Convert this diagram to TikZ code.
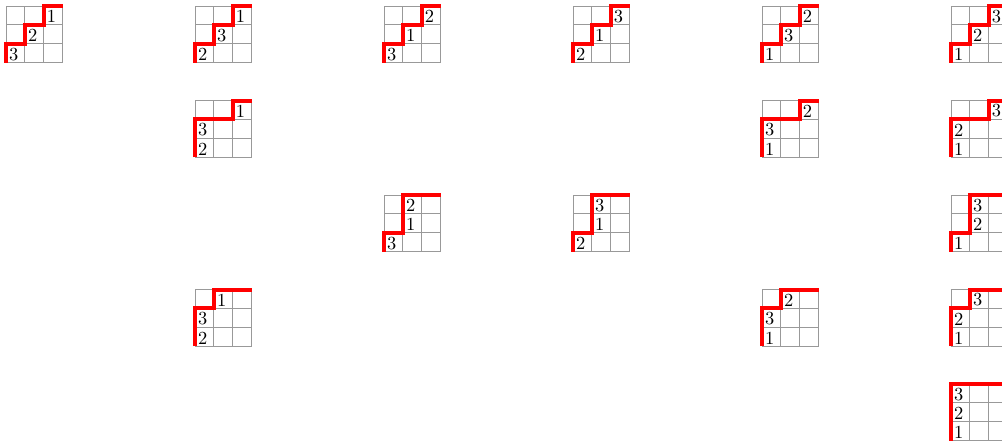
\documentclass[tikz,border=0pt]{standalone}
\tikzset{
  gridline/.style={gray!80, line width=0.5pt},
  rimline/.style={red, line width=2.2pt},
  entry/.style={anchor=south west, inner xsep=1.5pt, inner ysep=1pt}
}
\begin{document}
\begin{tikzpicture}[x=0.36cm, y=0.36cm]
\useasboundingbox (-0.32,0.32) rectangle (52.7,-23.17);
% col/row of tableau, column of entry in middle and top row, entries bottom/middle/top
\foreach \cx/\cy/\pb/\pc/\a/\b/\c in {
  0/0/1/2/3/2/1, 1/0/1/2/2/3/1, 2/0/1/2/3/1/2, 3/0/1/2/2/1/3, 4/0/1/2/1/3/2, 5/0/1/2/1/2/3,
  1/1/0/2/2/3/1, 4/1/0/2/1/3/2, 5/1/0/2/1/2/3,
  2/2/1/1/3/1/2, 3/2/1/1/2/1/3, 5/2/1/1/1/2/3,
  1/3/0/1/2/3/1, 4/3/0/1/1/3/2, 5/3/0/1/1/2/3,
  5/4/0/0/1/2/3}{
  \begin{scope}[shift={(10*\cx,-5*\cy-3)}]
    \foreach \i in {0,...,3} {
      \draw[gridline] (\i,0) -- (\i,3);
      \draw[gridline] (0,\i) -- (3,\i);
    }
    \node[entry] (t\cx\cy-1) at (0,0) {\a};
    \node[entry] (t\cx\cy-2) at (\pb,1) {\b};
    \node[entry] (t\cx\cy-3) at (\pc,2) {\c};
    \draw[rimline] (0,0) -- (0,1) -- (\pb,1) -- (\pb,2) -- (\pc,2) -- (\pc,3) -- (3,3);
  \end{scope}
}
\end{tikzpicture}
\end{document}
